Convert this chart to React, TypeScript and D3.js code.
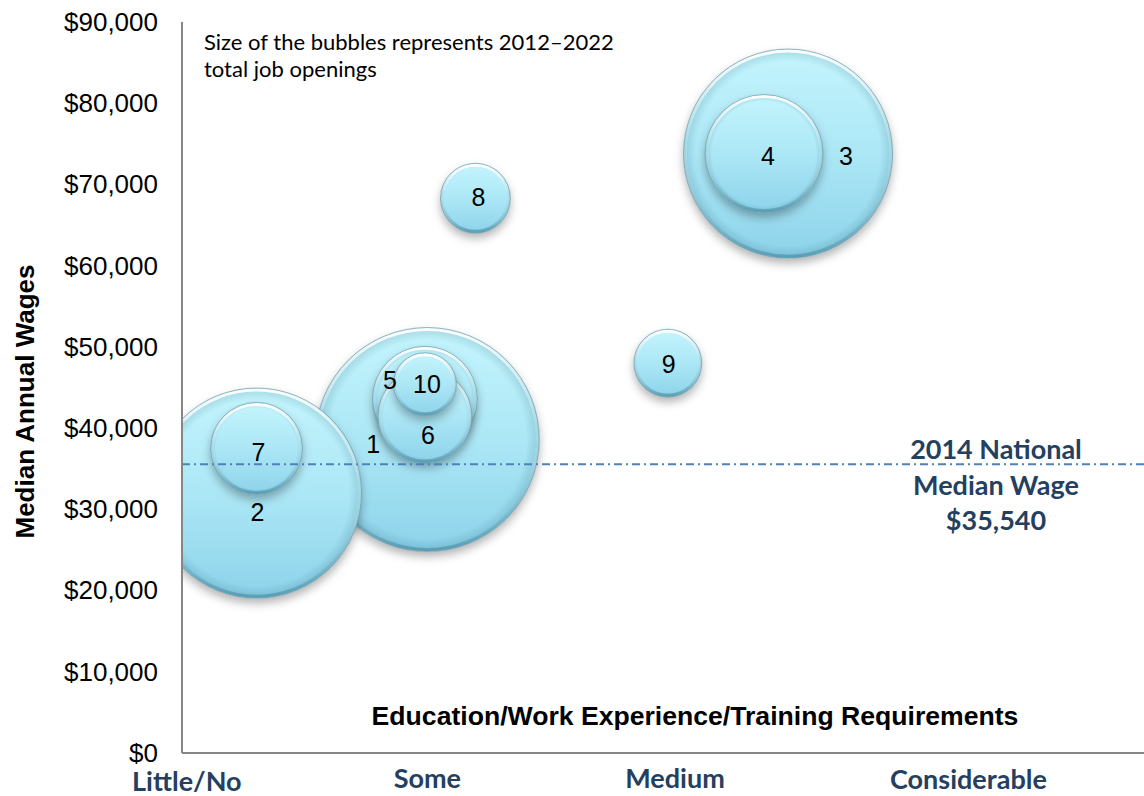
import React from "react";
import * as d3 from "d3";

// bubble chart: occupations by education level, median wage, job openings

const bubbleIds = ["1", "2", "3", "4", "5", "6", "7", "8", "9", "10"];
// position along the education/training axis (0 = little/no ... 3 = considerable)
const eduLevel = [1.02, 0.31, 2.52, 2.42, 1.01, 1.01, 0.31, 1.22, 2.02, 1.01];
const medianWage = [38600, 32000, 73800, 73800, 43600, 41500, 37500, 68300, 48000, 45400];
// 2012-2022 total job openings
const jobOpenings = [125000, 110000, 109000, 34700, 27500, 22000, 21100, 12200, 11500, 9900];

const yTicks = [0, 10000, 20000, 30000, 40000, 50000, 60000, 70000, 80000, 90000];
const categories = ["Little/No", "Some", "Medium", "Considerable"];
const categoryAt = [0.02, 1.02, 2.05, 3.27];

const nationalMedian = 35540;
const noteLines = ["Size of the bubbles represents 2012\u20132022", "total job openings"];
const medianLines = ["2014 National", "Median Wage", "$35,540"];

// label nudges (px) where Excel moved labels off the bubble centre
const labelNudge: [number, number][] = [
  [-54, 5], [1, 19], [58, 2], [4, 2], [-35, -19],
  [3, 19], [2, 4], [3, -1], [1, 1], [2, 0],
];
// the category text boxes do not sit on one baseline
const categoryBaseline = [791, 788, 788, 789];

const W = 1144;
const H = 796;
const left = 182;
const right = 1144;
const top = 22;
const bottom = 753;

export default function App() {
  const x = d3.scaleLinear().domain([0, 4]).range([left, right]);
  const y = d3.scaleLinear().domain([0, 90000]).range([bottom, top]);
  const r = d3.scaleSqrt().domain([0, d3.max(jobOpenings) as number]).range([0, 112]);

  const bubbles = bubbleIds
    .map((id, i) => ({
      id,
      cx: x(eduLevel[i]),
      cy: y(medianWage[i]),
      r: r(jobOpenings[i]),
      nudge: labelNudge[i],
    }))
    .sort((a, b) => b.r - a.r);

  const fmt = d3.format("$,");
  const arial = "'Liberation Sans', Arial, sans-serif";
  const calibri = "Lato, 'Open Sans', sans-serif";
  const navy = "#243F60";

  return (
    <div style={{ position: "absolute", left: 0, top: 0 }}>
      <svg width={W} height={H} style={{ display: "block", background: "#fff" }}>
        <defs>
          <linearGradient id="bubFill" x1="0" y1="0" x2="0" y2="1">
            <stop offset="0" stopColor="#C4F5FD" />
            <stop offset="0.5" stopColor="#ACE7F6" />
            <stop offset="1" stopColor="#8DD3EA" />
          </linearGradient>
          <radialGradient id="bubRim" cx="0.5" cy="0.5" r="0.5">
            <stop offset="0" stopColor="#0A4A5E" stopOpacity="0" />
            <stop offset="0.88" stopColor="#0A4A5E" stopOpacity="0" />
            <stop offset="1" stopColor="#0A4A5E" stopOpacity="0.18" />
          </radialGradient>
          <linearGradient id="bubEdge" x1="0" y1="0" x2="0" y2="1">
            <stop offset="0" stopColor="#ffffff" stopOpacity="0.95" />
            <stop offset="0.45" stopColor="#ffffff" stopOpacity="0.15" />
            <stop offset="1" stopColor="#3C7F94" stopOpacity="0.5" />
          </linearGradient>
          <filter id="bubShadow" x="-30%" y="-30%" width="160%" height="170%">
            <feDropShadow dx="0" dy="5" stdDeviation="5" floodColor="#000" floodOpacity="0.3" />
          </filter>
          <clipPath id="plotClip">
            <rect x={left} y={0} width={right - left} height={bottom} />
          </clipPath>
        </defs>

        {/* bubbles */}
        <g clipPath="url(#plotClip)">
          {bubbles.map((b) => (
            <g key={b.id}>
              <circle cx={b.cx} cy={b.cy} r={b.r} fill="url(#bubFill)" filter="url(#bubShadow)" />
              <circle cx={b.cx} cy={b.cy} r={b.r} fill="url(#bubRim)" />
              <circle cx={b.cx} cy={b.cy} r={b.r - 2} fill="none" stroke="url(#bubEdge)" strokeWidth={3} />
              <circle cx={b.cx} cy={b.cy} r={b.r} fill="none" stroke="#5E8E9C" strokeOpacity={0.55} strokeWidth={1} />
            </g>
          ))}
        </g>

        {/* national median line */}
        <line
          x1={left}
          x2={right}
          y1={y(nationalMedian)}
          y2={y(nationalMedian)}
          stroke="#4F81BD"
          strokeWidth={2}
          strokeDasharray="8,4,2,4"
        />

        {/* bubble labels */}
        {bubbles.map((b) => (
          <text
            key={"l" + b.id}
            x={b.cx + b.nudge[0]}
            y={b.cy + b.nudge[1]}
            dy="0.36em"
            textAnchor="middle"
            fontFamily={arial}
            fontSize={25}
            fill="#000"
          >
            {b.id}
          </text>
        ))}

        {/* axes */}
        <line x1={left} x2={left} y1={top} y2={bottom} stroke="#868686" strokeWidth={2} />
        <line x1={left} x2={right} y1={bottom} y2={bottom} stroke="#868686" strokeWidth={2} />

        {yTicks.map((t) => (
          <text
            key={t}
            x={158}
            y={y(t)}
            dy="0.34em"
            textAnchor="end"
            fontFamily={arial}
            fontSize={26}
            fill="#000"
          >
            {fmt(t)}
          </text>
        ))}

        <text
          transform={`translate(34, ${(top + bottom) / 2 + 14}) rotate(-90)`}
          textAnchor="middle"
          fontFamily={arial}
          fontWeight="bold"
          fontSize={26}
        >
          Median Annual Wages
        </text>

        <text x={695} y={725} textAnchor="middle" fontFamily={arial} fontWeight="bold" fontSize={26.6}>
          Education/Work Experience/Training Requirements
        </text>

        {categories.map((c, i) => (
          <text
            key={c}
            x={x(categoryAt[i])}
            y={categoryBaseline[i]}
            textAnchor="middle"
            fontFamily={calibri}
            fontWeight="bold"
            fontSize={27}
            fill={navy}
          >
            {c}
          </text>
        ))}

        {noteLines.map((s, i) => (
          <text key={s} x={204} y={50 + i * 27} fontFamily={calibri} fontSize={22} fill="#000">
            {s}
          </text>
        ))}

        {medianLines.map((s, i) => (
          <text
            key={s}
            x={996}
            y={459 + i * 35.5}
            textAnchor="middle"
            fontFamily={calibri}
            fontWeight="bold"
            fontSize={27}
            fill={navy}
          >
            {s}
          </text>
        ))}
      </svg>
    </div>
  );
}
